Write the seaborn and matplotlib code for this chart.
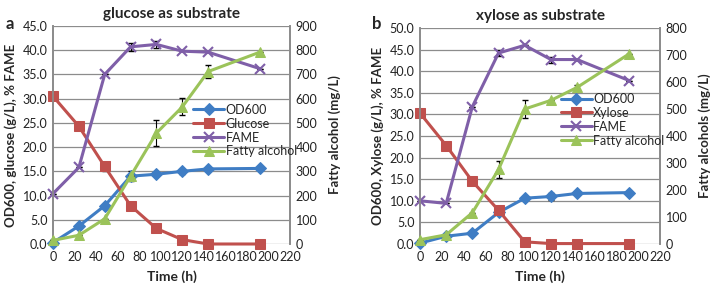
import numpy as np
import pandas as pd
import seaborn as sns
import matplotlib.pyplot as plt

sns.set_theme(style="white")
plt.rcParams['font.family'] = ['Lato', 'DejaVu Sans']

time_h = [0, 24, 48, 72, 96, 120, 144, 192]

# Panel a: glucose
a_od600 = [0.3, 3.7, 7.9, 14.0, 14.4, 15.0, 15.5, 15.6]
a_glucose = [30.5, 24.3, 16.0, 7.9, 3.2, 0.9, 0.0, 0.0]
a_fame = [10.4, 15.8, 35.0, 40.7, 41.2, 39.8, 39.6, 36.2]
a_fa = [15, 36, 104, 280, 458, 566, 712, 792]
a_fa_err = [0, 0, 0, 0, 55, 35, 25, 0]
a_fame_err = [0, 0, 0, 0.8, 0.8, 0, 0, 0]
a_glc_err = [0, 0, 1.0, 0, 0, 0, 0, 0]
a_od_err = [0, 0, 0, 1.0, 0, 0.5, 0, 0]

# Panel b: xylose
b_od600 = [0.2, 1.8, 2.5, 7.3, 10.6, 11.0, 11.7, 11.9]
b_xylose = [30.3, 22.8, 14.5, 7.8, 0.5, 0.1, 0.1, 0.1]
b_fame = [10.0, 9.4, 31.8, 44.2, 46.0, 42.7, 42.7, 37.8]
b_fa = [16, 34, 116, 276, 500, 532, 580, 705]
b_fa_err = [0, 0, 0, 30, 35, 0, 10, 0]
b_fame_err = [0, 0, 0, 0.7, 0, 0.7, 0, 0]
b_od_err = [0, 0, 0, 0, 0, 0.7, 0, 0]

c_blue = '#3F7DC4'
c_red = '#C0504D'
c_purple = '#7F5FA8'
c_green = '#9BC35A'

fig = plt.figure(figsize=(7.1, 2.89), dpi=100)
W, H = 710, 289
panels = [
    dict(rect=[53/W, 1-244/H, (290-53)/W, (244-26)/H], title='glucose as substrate', letter='a',
         letter_xy=(6/W, 1-24/H),
         od=a_od600, sub=a_glucose, sub_name='Glucose', fame=a_fame, fa=a_fa,
         ylim=(0, 45), yticks=np.arange(0, 45.1, 5), y2lim=(0, 900), y2ticks=np.arange(0, 901, 100),
         ylabel='OD600, glucose (g/L), % FAME', y2label='Fatty alcohol (mg/L)',
         fa_err=a_fa_err, fame_err=a_fame_err, sub_err=a_glc_err, od_err=a_od_err,
         leg=(0.57, 0.52)),
    dict(rect=[420/W, 1-244/H, (660-420)/W, (244-28)/H], title='xylose as substrate', letter='b',
         letter_xy=(372/W, 1-24/H),
         od=b_od600, sub=b_xylose, sub_name='Xylose', fame=b_fame, fa=b_fa,
         ylim=(0, 50), yticks=np.arange(0, 50.1, 5), y2lim=(0, 800), y2ticks=np.arange(0, 801, 100),
         ylabel='OD600, Xylose (g/L), % FAME', y2label='Fatty alcohols (mg/L)',
         fa_err=b_fa_err, fame_err=b_fame_err, sub_err=[0]*8, od_err=b_od_err,
         leg=(0.565, 0.575)),
]

for p in panels:
    ax = fig.add_axes(p['rect'])
    ax2 = ax.twinx()
    df = pd.DataFrame({'t': time_h, 'od': p['od'], 'sub': p['sub'], 'fame': p['fame'], 'fa': p['fa']})
    lw = 2.2
    ekw = dict(fmt='none', ecolor='black', elinewidth=0.8, capsize=2, zorder=1, clip_on=False)
    ax.errorbar(time_h, p['od'], yerr=p['od_err'], **ekw)
    ax.errorbar(time_h, p['sub'], yerr=p['sub_err'], **ekw)
    ax.errorbar(time_h, p['fame'], yerr=p['fame_err'], **ekw)
    ax2.errorbar(time_h, p['fa'], yerr=p['fa_err'], **ekw)
    sns.lineplot(data=df, x='t', y='od', ax=ax, color=c_blue, marker='D', markersize=6, lw=lw,
                 markeredgecolor=c_blue, label='OD600', legend=False, zorder=3, clip_on=False)
    sns.lineplot(data=df, x='t', y='sub', ax=ax, color=c_red, marker='s', markersize=7, lw=lw,
                 markeredgecolor=c_red, label=p['sub_name'], legend=False, zorder=3, clip_on=False)
    sns.lineplot(data=df, x='t', y='fame', ax=ax, color=c_purple, marker='x', markersize=7, lw=lw,
                 markeredgewidth=1.5, markeredgecolor=c_purple, label='FAME', legend=False,
                 zorder=3, clip_on=False)
    sns.lineplot(data=df, x='t', y='fa', ax=ax2, color=c_green, marker='^', markersize=7, lw=lw,
                 markeredgecolor=c_green, label='Fatty alcohol', legend=False, zorder=3, clip_on=False)

    ax.set_xlim(0, 220)
    ax.set_xticks(np.arange(0, 221, 20))
    ax.set_ylim(*p['ylim'])
    ax.set_yticks(p['yticks'])
    ax.set_yticklabels([f'{v:.1f}' for v in p['yticks']])
    ax2.set_ylim(*p['y2lim'])
    ax2.set_yticks(p['y2ticks'])
    ax.grid(axis='y', color='#8C8C8C', lw=0.9)
    ax.set_axisbelow(True)
    for a in (ax, ax2):
        a.spines['top'].set_visible(False)
        a.spines['bottom'].set_visible(False)
        a.spines['left'].set_color('#8C8C8C')
        a.spines['right'].set_color('#8C8C8C')
        a.tick_params(labelsize=9, colors='#222222', length=0, pad=4)
    ax.tick_params(axis='x', pad=5)
    ax.set_xlabel('Time (h)', fontsize=10, fontweight='bold', labelpad=5)
    ax.set_ylabel(p['ylabel'], fontsize=9.5, fontweight='bold', labelpad=4)
    ax2.set_ylabel(p['y2label'], fontsize=9.5, fontweight='bold', labelpad=8)
    ax.set_title(p['title'], fontsize=11, fontweight='bold', pad=6)
    fig.text(p['letter_xy'][0], p['letter_xy'][1], p['letter'], fontsize=12, fontweight='bold',
             ha='left', va='center')
    h1, l1 = ax.get_legend_handles_labels()
    h2, l2 = ax2.get_legend_handles_labels()
    ax2.legend(h1 + h2, l1 + l2, loc='center left', bbox_to_anchor=p['leg'], frameon=False,
               fontsize=9, handlelength=2.5, handletextpad=0.1, labelspacing=0.15, borderaxespad=0)

fig.savefig('out.png', dpi=100)
